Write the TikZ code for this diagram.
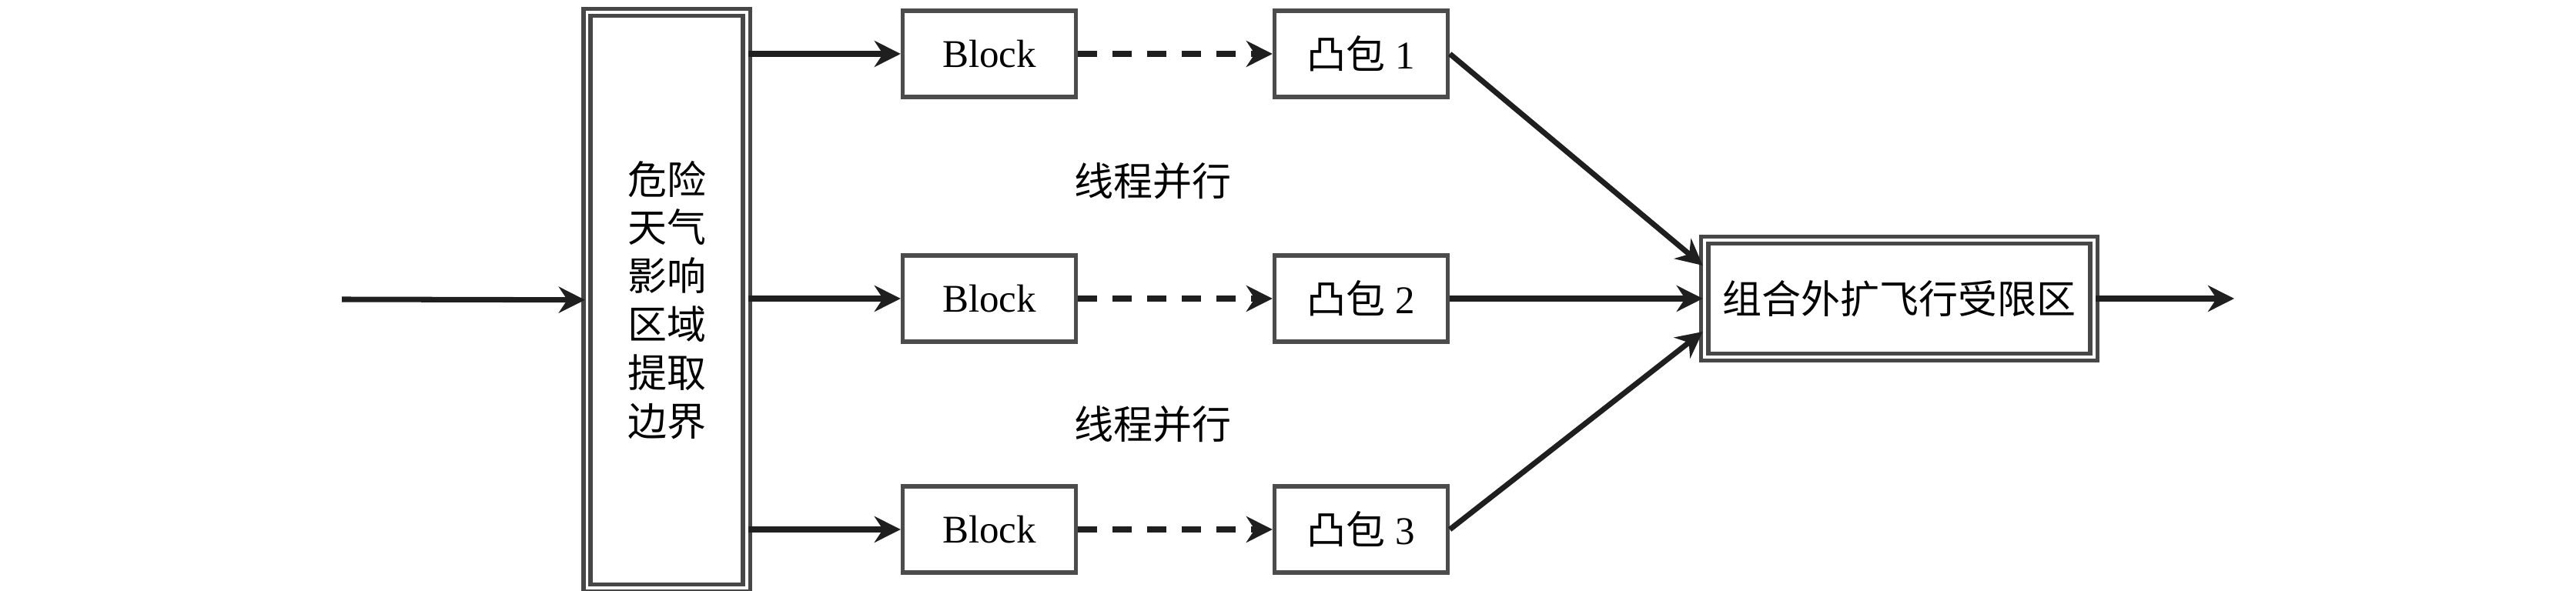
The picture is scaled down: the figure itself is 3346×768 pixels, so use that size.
\documentclass[tikz,border=0pt]{standalone}
\usepackage{fontspec}
\setmainfont{Liberation Serif}
\newfontfamily\cjk{Noto Sans CJK SC}
\usepackage{tikz}
\usetikzlibrary{arrows.meta,positioning}

\begin{document}
\begin{tikzpicture}[x=0.01cm,y=-0.01cm,
  every node/.style={font=\fontsize{14.5}{18}\selectfont},
  blk/.style={draw=black!70,line width=1.5pt,minimum width=2.25cm,minimum height=1.12cm,inner sep=0pt},
  dbl/.style={draw=black!72,line width=1.5pt,double=white,double distance=1.1pt,inner sep=0pt},
  lbl/.style={font=\cjk\fontsize{14.5}{18}\selectfont},
  arr/.style={-{Stealth[length=3.4mm,width=3.4mm]},line width=2pt,black!88},
  darr/.style={arr,dash pattern=on 2.5mm off 2mm}]
 \useasboundingbox (0,0) rectangle (3346,768);
 \coordinate (in) at (444,389);
 \node[dbl,minimum width=2.07cm,minimum height=7.48cm,align=center,
       font=\cjk\fontsize{14.5}{17.9}\selectfont] (ext) at (866,390) {危险\\天气\\影响\\区域\\提取\\边界};
 \draw[arr] (in) -- (ext);
 % three parallel branches
 \node[blk] (b1) at (1285,70)  {Block};  \node[blk] (h1) at (1768,70)  {{\cjk 凸包} 1};
 \node[blk] (b2) at (1285,388) {Block};  \node[blk] (h2) at (1768,388) {{\cjk 凸包} 2};
 \node[blk] (b3) at (1285,688) {Block};  \node[blk] (h3) at (1768,688) {{\cjk 凸包} 3};
 \draw[arr] (ext.east |- b1.west) -- (b1.west);
 \draw[arr] (ext.east |- b2.west) -- (b2.west);
 \draw[arr] (ext.east |- b3.west) -- (b3.west);
 \draw[darr] (b1) -- (h1);
 \draw[darr] (b2) -- (h2);
 \draw[darr] (b3) -- (h3);
 \node[lbl] (p1) at (1497,235) {线程并行};
 \node[lbl] (p2) at (1497,551) {线程并行};
 % merge
 \node[dbl,minimum width=5.05cm,minimum height=1.52cm,lbl] (fin) at (2467,388) {组合外扩飞行受限区};
 \draw[arr] (h1.east) -- ([yshift=4.3mm]fin.west);
 \draw[arr] (h2.east) -- (fin.west);
 \draw[arr] (h3.east) -- ([yshift=-4.3mm]fin.west);
 \coordinate (out) at (2902,388);
 \draw[arr] (fin) -- (out);
\end{tikzpicture}
\end{document}
